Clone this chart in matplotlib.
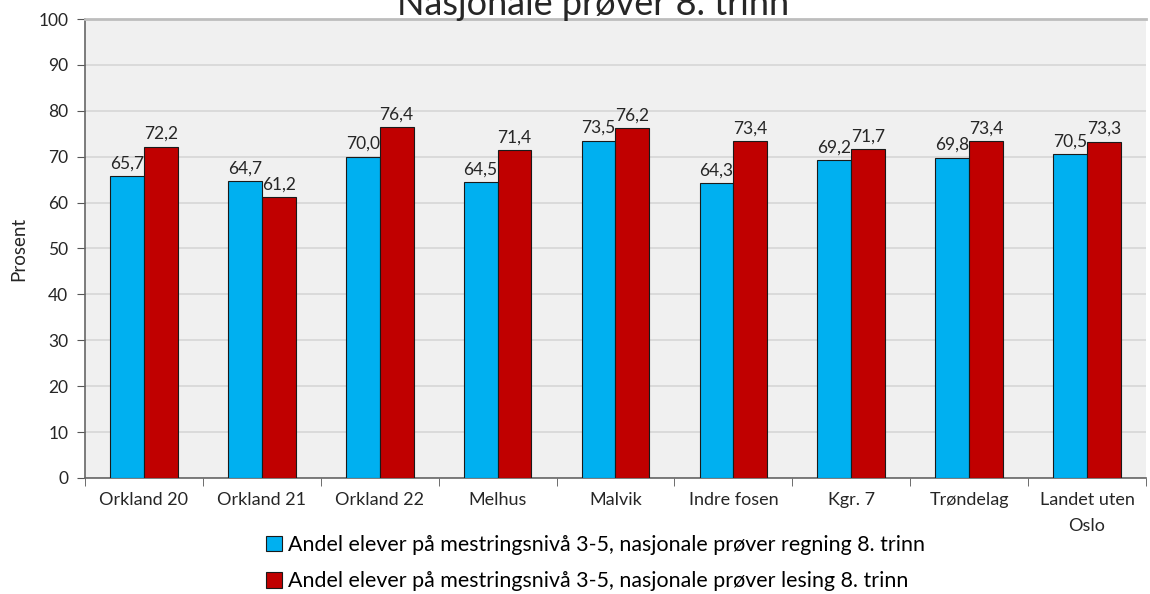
import matplotlib.pyplot as plt
import numpy as np

categories = ["Orkland 20", "Orkland 21", "Orkland 22", "Melhus", "Malvik",
              "Indre fosen", "Kgr. 7", "Trøndelag", "Landet uten\nOslo"]
regning = [65.7, 64.7, 70.0, 64.5, 73.5, 64.3, 69.2, 69.8, 70.5]
lesing = [72.2, 61.2, 76.4, 71.4, 76.2, 73.4, 71.7, 73.4, 73.3]
series_names = [
    "Andel elever på mestringsnivå 3-5, nasjonale prøver regning 8. trinn",
    "Andel elever på mestringsnivå 3-5, nasjonale prøver lesing 8. trinn",
]
yticks = list(range(0, 101, 10))

plt.rcParams['font.family'] = ['Lato', 'DejaVu Sans']
txt = "#262626"

fig = plt.figure(figsize=(11.5, 5.94), dpi=100)
ax = fig.add_axes([0.0739, 0.1953, 0.9226, 0.7727])
ax.set_facecolor("#f0f0f0")

x = np.arange(len(categories))
w = 0.287
b1 = ax.bar(x - w / 2, regning, w, color="#00b0f0", edgecolor="#1a1a1a",
            linewidth=0.8, label=series_names[0], zorder=3)
b2 = ax.bar(x + w / 2, lesing, w, color="#c00000", edgecolor="#1a1a1a",
            linewidth=0.8, label=series_names[1], zorder=3)

for bars, vals in ((b1, regning), (b2, lesing)):
    for bar, v in zip(bars, vals):
        ax.text(bar.get_x() + bar.get_width() / 2, v + 1.0,
                f"{v:.1f}".replace(".", ","), ha="center", va="bottom",
                fontsize=12.5, color=txt, zorder=4)

ax.set_xlim(-0.5, len(categories) - 0.5)
ax.set_ylim(0, 100)
ax.set_yticks(yticks)
ax.tick_params(axis="y", labelsize=12.5, colors=txt, length=6,
               color="#555555", pad=6)
ax.set_xticks(x)
ax.set_xticklabels(categories, fontsize=13, color=txt, linespacing=1.75)
ax.set_xticks(np.arange(-0.5, len(categories)), minor=True)
ax.tick_params(axis="x", which="major", length=0, pad=10)
ax.tick_params(axis="x", which="minor", length=6, color="#555555")
ax.grid(axis="y", color="#d6d6d6", linewidth=1.2, zorder=0)
ax.set_axisbelow(True)

for s in ("left", "bottom"):
    ax.spines[s].set_color("#666666")
    ax.spines[s].set_linewidth(1.2)
ax.spines["top"].set_color("#bdbdbd")
ax.spines["top"].set_linewidth(2)
ax.spines["right"].set_visible(False)

ax.set_ylabel("Prosent", fontsize=13.5, color=txt, labelpad=8)

fig.text(0.516, 0.992, "Nasjonale prøver 8. trinn", ha="center",
         va="center", fontsize=26, color=txt)

fig.legend(handles=[b1, b2], loc="center", bbox_to_anchor=(0.518, 0.052),
           ncol=1, frameon=False, fontsize=15.4, handlelength=0.75,
           handleheight=0.75, handletextpad=0.3, labelspacing=0.75)

fig.savefig("out.png", dpi=100)
